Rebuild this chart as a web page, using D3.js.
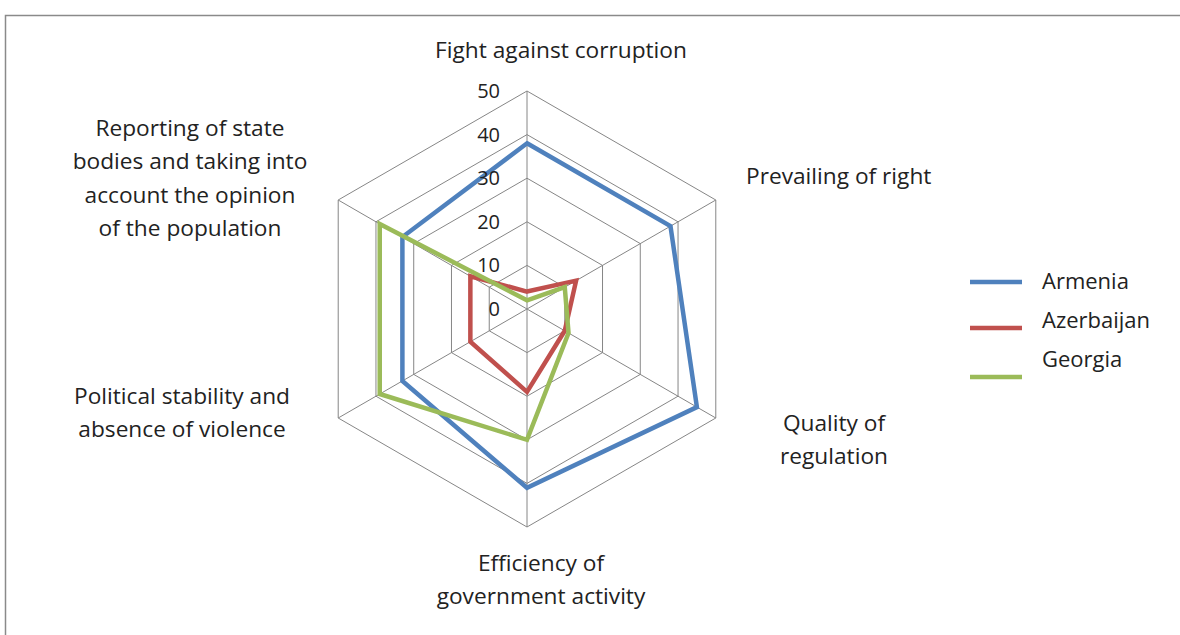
<!DOCTYPE html>
<html><head><meta charset="utf-8">
<script src="https://cdn.jsdelivr.net/npm/d3@7"></script>
<style>body{margin:0;background:#fff}svg{display:block}text{font-family:"Open Sans",sans-serif;fill:#222}</style>
</head><body>
<script>
const categories = ["Fight against corruption","Prevailing of right","Quality of regulation","Efficiency of government activity","Political stability and absence of violence","Reporting of state bodies and taking into account the opinion of the population"];
const seriesNames = ["Armenia","Azerbaijan","Georgia"];
const armenia = [38, 38, 45, 41, 33, 33];
const azerbaijan = [4, 13, 10, 19, 15, 15];
const georgia = [2, 10, 11, 30, 39, 39];
const tickValues = [0, 10, 20, 30, 40, 50];
const colors = ["#4F81BD", "#C0504D", "#9BBB59"];

const W = 1180, H = 635, cx = 527, cy = 309, R = 218;
const svg = d3.select("body").append("svg").attr("width", W).attr("height", H);
svg.append("path").attr("d", `M5.5,${H}V15.5H${W}`).attr("fill","none").attr("stroke","#8a8a8a").attr("stroke-width",1.5);

const r = d3.scaleLinear().domain([0, 50]).range([0, R]);
const ang = i => i * Math.PI * 2 / categories.length;
const pt = (i, v) => [cx + r(v) * Math.sin(ang(i)), cy - r(v) * Math.cos(ang(i))];

const g = svg.append("g");
tickValues.slice(1).forEach(t => {
  g.append("polygon").attr("points", categories.map((c, i) => pt(i, t).join(",")).join(" "))
    .attr("fill", "none").attr("stroke", "#868686").attr("stroke-width", 1);
});
categories.forEach((c, i) => {
  const p = pt(i, 50);
  g.append("line").attr("x1", cx).attr("y1", cy).attr("x2", p[0]).attr("y2", p[1]).attr("stroke", "#868686").attr("stroke-width", 1);
});

const data = [armenia, azerbaijan, georgia];
const line = d3.line().curve(d3.curveLinearClosed);
data.forEach((vals, k) => {
  g.append("path").attr("d", line(vals.map((v, i) => pt(i, v))))
    .attr("fill", "none").attr("stroke", colors[k]).attr("stroke-width", 4.5).attr("stroke-linejoin", "miter");
});

tickValues.forEach(t => {
  svg.append("text").attr("x", cx - 27).attr("y", cy - r(t)).attr("dy", "0.35em")
    .attr("text-anchor", "end").attr("font-size", 20).text(t);
});

const labelLines = [
  {lines: ["Fight against corruption"], x: 561, y: 50, anchor: "middle"},
  {lines: ["Prevailing of right"], x: 746, y: 176, anchor: "start"},
  {lines: ["Quality of", "regulation"], x: 834, y: 423, anchor: "middle"},
  {lines: ["Efficiency of", "government activity"], x: 541, y: 563, anchor: "middle"},
  {lines: ["Political stability and", "absence of violence"], x: 182, y: 396, anchor: "middle"},
  {lines: ["Reporting of state", "bodies and taking into", "account the opinion", "of the population"], x: 190, y: 128, anchor: "middle"}
];
labelLines.forEach(l => {
  const t = svg.append("text").attr("text-anchor", l.anchor).attr("font-size", 22.7);
  l.lines.forEach((s, j) => t.append("tspan").attr("x", l.x).attr("y", l.y + j * 33.5).attr("dy", "0.35em").text(s));
});

const legLineY = [282, 328, 377], legTextY = [281, 320, 359];
seriesNames.forEach((n, k) => {
  svg.append("line").attr("x1", 970).attr("x2", 1022).attr("y1", legLineY[k]).attr("y2", legLineY[k])
    .attr("stroke", colors[k]).attr("stroke-width", 4.5);
  svg.append("text").attr("x", 1042).attr("y", legTextY[k]).attr("dy", "0.35em").attr("font-size", 22).text(n);
});
</script>
</body></html>
